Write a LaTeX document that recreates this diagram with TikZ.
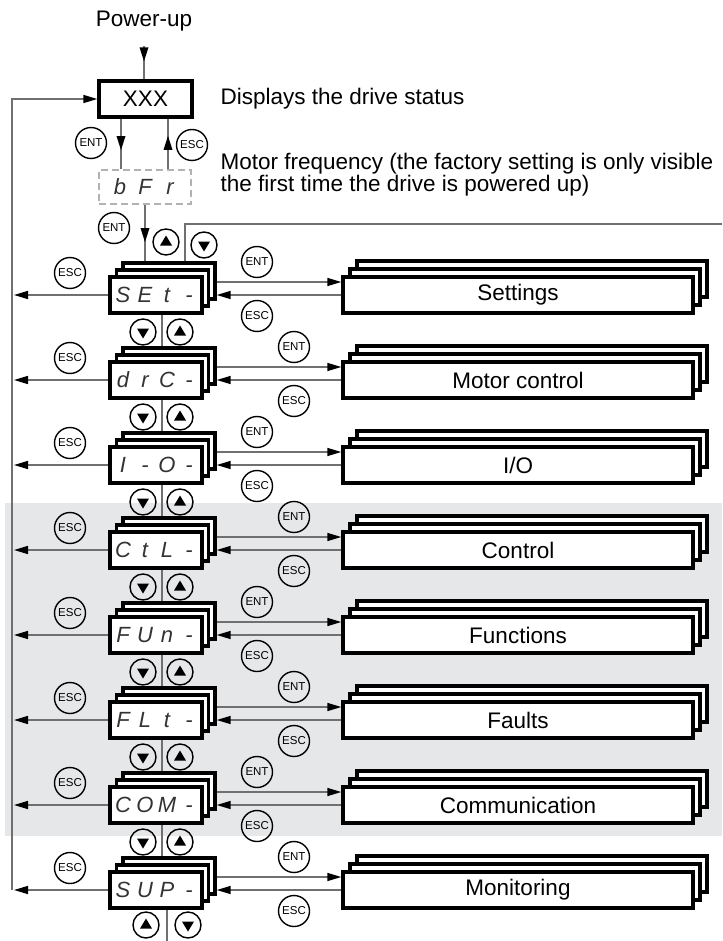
\documentclass[tikz,border=0pt]{standalone}
\usepackage{fontspec}
\setmainfont{Liberation Sans}
\usetikzlibrary{arrows.meta,decorations.markings,calc}
\definecolor{bandgray}{HTML}{E6E7E8}
\definecolor{linegray}{HTML}{707070}
\newcommand\segs[4]{\makebox[22pt]{#1}\makebox[22pt]{#2}\makebox[22pt]{#3}\makebox[22pt]{#4}}
\tikzset{
  tipend/.style={-{Triangle[length=14pt,width=8pt,color=black]}},
  conn/.style={draw=linegray, line width=1.5pt},
  midtip/.style={postaction={decorate}, decoration={markings, mark=at position #1 with {\fill[black] (0,0) -- (-14,-4.5) -- (-14,4.5) -- cycle;}}},
  layer/.style={draw=black, line width=3.4pt, fill=white, minimum height=36pt, inner sep=0pt},
  menubox/.style={layer, minimum width=92pt},
  panelbox/.style={layer, minimum width=350pt},
  keybtn/.style={circle, draw=black, line width=1.4pt, minimum size=31pt, inner sep=0pt, font=\fontsize{11.5}{13}\selectfont},
  navbtn/.style={circle, draw=black, line width=1.4pt, minimum size=26pt, inner sep=0pt},
  navup/.style={navbtn, path picture={\fill[black] ($(path picture bounding box.center)+(-6,3.5)$) -- ($(path picture bounding box.center)+(6,3.5)$) -- ($(path picture bounding box.center)+(0,-6.5)$) -- cycle;}},
  navdown/.style={navbtn, path picture={\fill[black] ($(path picture bounding box.center)+(-6,-3.5)$) -- ($(path picture bounding box.center)+(6,-3.5)$) -- ($(path picture bounding box.center)+(0,6.5)$) -- cycle;}},
  lcd/.style={font=\fontsize{22}{26}\selectfont\itshape, text=black!80},
  txt/.style={font=\fontsize{22.5}{27}\selectfont},
}
\newcommand\menurow[5]{%
  \node[menubox] (m#1c) at (169,#2-14) {};
  \node[menubox] (m#1b) at (162.5,#2-7) {};
  \node[menubox, lcd] (m#1) at (156,#2) {#3};
  \node[panelbox] (r#1c) at (532,#2-16) {};
  \node[panelbox] (r#1b) at (525,#2-8) {};
  \node[panelbox, txt] (r#1) at (518,#2) {#4};
  \coordinate (ent#1) at (280,#2-13);
  \coordinate (esc#1) at (280,#2);
  \coordinate (out#1) at (14,#2);
  \draw[conn, tipend] (m#1c.east |- ent#1) -- (r#1.west |- ent#1);
  \draw[conn, tipend] (r#1.west |- esc#1) -- (m#1c.east |- esc#1);
  \draw[conn, tipend] (m#1.west) -- (out#1);
  \node[keybtn] (ke#1) at (#5,#2-33) {ENT};
  \node[keybtn] (kr#1) at (#5,#2+21) {ESC};
  \node[keybtn] (kl#1) at (70,#2-22) {ESC};
}
\begin{document}
\begin{tikzpicture}[x=1pt,y=-1pt]
\useasboundingbox (0,0) rectangle (722,941);
\fill[bandgray] (5,503) rectangle (722,836);

% top part
\node[txt] (pwr) at (144,21) {Power-up};
\node[draw=black, line width=3.4pt, minimum width=93pt, minimum height=36pt, inner sep=0pt, txt] (xxx) at (145.5,99) {XXX};
\coordinate (pwrstart) at (144,46);
\draw[conn, midtip=0.46] (pwrstart) -- (xxx.north -| pwrstart);
\node[txt, anchor=west] (status) at (217,99) {Displays the drive status};

\node[draw=gray!60, dash pattern=on 7pt off 4pt, line width=1.5pt, minimum width=92pt, minimum height=34pt, inner sep=0pt, lcd] (bfr) at (145,187) {\makebox[25pt]{b}\makebox[25pt]{F}\makebox[25pt]{r}};
\node[txt, anchor=west, align=left, font=\fontsize{22.5}{22}\selectfont] (motor) at (217,175) {Motor frequency (the factory setting is only visible\\the first time the drive is powered up)};

\coordinate (entdn) at (121,0);
\coordinate (escup) at (168,0);
\draw[conn, midtip=0.62] (xxx.south -| entdn) -- (bfr.north -| entdn);
\draw[conn, midtip=0.66] (bfr.north -| escup) -- (xxx.south -| escup);
\node[keybtn] (kent0) at (91,143) {ENT};
\node[keybtn] (kesc0) at (192,145) {ESC};

% rows
\menurow{0}{295}{\segs{S}{E}{t}{-}}{Settings}{257}
\menurow{1}{380}{\segs{d}{r}{C}{-}}{Motor control}{294}
\menurow{2}{465}{\segs{I}{-}{O}{-}}{I/O}{257}
\menurow{3}{550}{\segs{C}{t}{L}{-}}{Control}{294}
\menurow{4}{635}{\segs{F}{U}{n}{-}}{Functions}{257}
\menurow{5}{720}{\segs{F}{L}{t}{-}}{Faults}{294}
\menurow{6}{805}{\segs{C}{O}{M}{-}}{Communication}{257}
\menurow{7}{890}{\segs{S}{U}{P}{-}}{Monitoring}{294}

% entry into the menu
\draw[conn, midtip=0.66] (bfr.south) -- (bfr.south |- m0c.north);
\node[keybtn] (kent1) at (114,228) {ENT};
\node[navup] (topup) at (166,242) {};
\node[navdown] (topdown) at (204,245) {};
\coordinate (loopc) at (185,224);
\coordinate (loopx) at (722,224);
\draw[conn] (m0c.north -| loopc) -- (loopc) -- (loopx);

% column between rows
\coordinate (col) at (162,0);
\foreach \i [evaluate=\i as \y using 295+85*\i, evaluate=\i as \j using int(\i+1)] in {0,...,6} {
  \draw[conn] (m\i.south -| col) -- (m\j c.north -| col);
  \node[navdown] (nd\i) at (143,\y+37) {};
  \node[navup] (nu\i) at (180,\y+37) {};
}

% bottom
\coordinate (botx) at (167,941);
\draw[conn] (m7.south -| botx) -- (botx);
\node[navup] (bu) at (146,925) {};
\node[navdown] (bd) at (188,925) {};

% return line to the status display
\coordinate (lbot) at (12,890);
\coordinate (ltop) at (12,99);
\draw[conn, tipend] (lbot) -- (ltop) -- (xxx.west);
\end{tikzpicture}
\end{document}
